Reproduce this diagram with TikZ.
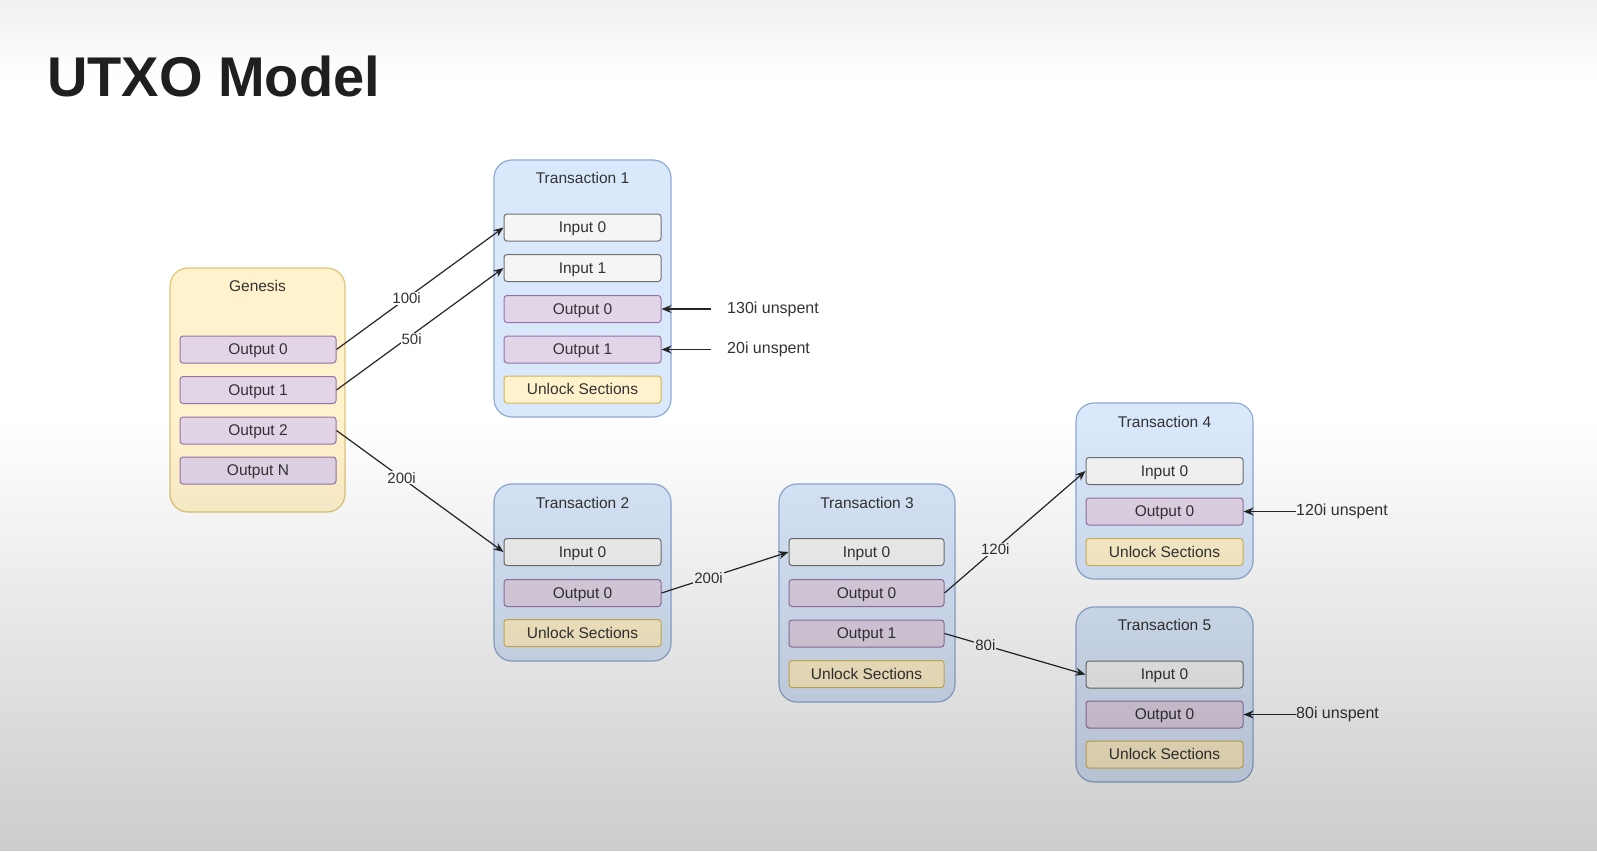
\documentclass[tikz,border=0pt]{standalone}
\usepackage{fontspec}
\setmainfont{Liberation Sans}
\usetikzlibrary{arrows.meta,fadings}
\definecolor{yfill}{HTML}{FFF2CC}
\definecolor{ystroke}{HTML}{D6B656}
\definecolor{bfill}{HTML}{DAE8FC}
\definecolor{bstroke}{HTML}{8FAAD3}
\definecolor{pfill}{HTML}{E1D5E7}
\definecolor{pstroke}{HTML}{9673A6}
\definecolor{gfill}{HTML}{F5F5F5}
\definecolor{gstroke}{HTML}{707070}
\definecolor{txt}{HTML}{333333}
\newcommand{\fsz}{\fontsize{15.5}{18}\selectfont}
\newcommand{\fsl}{\fontsize{15}{18}\selectfont}
\newcommand{\fsu}{\fontsize{16}{19}\selectfont}
\begin{document}
\begin{tikzpicture}[x=1pt,y=-1pt,
  cont/.style={draw=bstroke, fill=bfill, line width=1.2pt, rounded corners=18pt, minimum width=177pt, inner sep=0pt},
  gen/.style={draw=ystroke!80, fill=yfill, line width=1.2pt, rounded corners=18pt, minimum width=175pt, minimum height=244pt, inner sep=0pt},
  ib/.style={draw, rounded corners=3pt, minimum width=157pt, minimum height=27pt, inner sep=0pt, font=\fsz, text=txt, line width=1pt, text height=11.5pt, text depth=1pt},
  outb/.style={ib, fill=pfill, draw=pstroke},
  inb/.style={ib, fill=gfill, draw=gstroke},
  unlb/.style={ib, fill=yfill, draw=ystroke},
  ttl/.style={font=\fsz, text=txt, inner sep=0pt},
  lbl/.style={fill=white, inner sep=1pt, font=\fsl, text=txt},
  uns/.style={font=\fsu, text=txt, inner sep=0pt, anchor=west},
  arr/.style={-{Stealth[length=10pt,width=8pt]}, line width=1.2pt, draw=black!85}]
\useasboundingbox (0,0) rectangle (1597,851);
\fill[white] (0,0) rectangle (1597,851);
\fill[black, opacity=0.06, path fading=south] (0,0) rectangle (1597,80);

% title
\node[anchor=base west, inner sep=0pt, font=\fontsize{56}{60}\bfseries\selectfont, text=black!88] (title) at (47,96) {UTXO Model};

% Genesis
\node[gen] (gen) at (257.5,390) {};
\node[ttl] (gent) at (257.5,286) {Genesis};
\node[outb, minimum width=156pt] (g0) at (258,349.5) {Output 0};
\node[outb, minimum width=156pt] (g1) at (258,390) {Output 1};
\node[outb, minimum width=156pt] (g2) at (258,430.5) {Output 2};
\node[outb, minimum width=156pt] (gN) at (258,470.5) {Output N};

% Transaction 1
\node[cont, minimum height=257pt] (t1) at (582.5,288.5) {};
\node[ttl] (t1t) at (582.5,178) {Transaction 1};
\node[inb] (t1i0) at (582.5,227.5) {Input 0};
\node[inb] (t1i1) at (582.5,268) {Input 1};
\node[outb] (t1o0) at (582.5,309) {Output 0};
\node[outb] (t1o1) at (582.5,349.5) {Output 1};
\node[unlb] (t1u) at (582.5,389.5) {Unlock Sections};

% Transaction 2
\node[cont, minimum height=177pt] (t2) at (582.5,572.5) {};
\node[ttl] (t2t) at (582.5,503) {Transaction 2};
\node[inb] (t2i0) at (582.5,552) {Input 0};
\node[outb] (t2o0) at (582.5,593) {Output 0};
\node[unlb] (t2u) at (582.5,633) {Unlock Sections};

% Transaction 3
\node[cont, minimum width=176pt, minimum height=218pt] (t3) at (867,593) {};
\node[ttl] (t3t) at (867,503) {Transaction 3};
\node[inb, minimum width=155pt] (t3i0) at (866.5,552) {Input 0};
\node[outb, minimum width=155pt] (t3o0) at (866.5,593) {Output 0};
\node[outb, minimum width=155pt] (t3o1) at (866.5,633.5) {Output 1};
\node[unlb, minimum width=155pt] (t3u) at (866.5,674) {Unlock Sections};

% Transaction 4
\node[cont, minimum height=176pt] (t4) at (1164.5,491) {};
\node[ttl] (t4t) at (1164.5,422) {Transaction 4};
\node[inb] (t4i0) at (1164.5,471) {Input 0};
\node[outb] (t4o0) at (1164.5,511.5) {Output 0};
\node[unlb] (t4u) at (1164.5,552) {Unlock Sections};

% Transaction 5
\node[cont, minimum height=175pt] (t5) at (1164.5,694.5) {};
\node[ttl] (t5t) at (1164.5,625) {Transaction 5};
\node[inb] (t5i0) at (1164.5,674.5) {Input 0};
\node[outb] (t5o0) at (1164.5,714.5) {Output 0};
\node[unlb] (t5u) at (1164.5,754.5) {Unlock Sections};

% edges
\draw[arr] (g0.east) -- node[lbl, pos=0.42] {100i} (t1i0.west);
\draw[arr] (g1.east) -- node[lbl, pos=0.45, yshift=-4pt] {50i} (t1i1.west);
\draw[arr] (g2.east) -- node[lbl, pos=0.39] {200i} (t2i0.west);
\draw[arr] (t2o0.east) -- node[lbl, pos=0.37] {200i} (t3i0.west);
\draw[arr] (t3o0.east) -- node[lbl, pos=0.36] {120i} (t4i0.west);
\draw[arr] (t3o1.east) -- node[lbl, pos=0.29] {80i} (t5i0.west);

% unspent labels
\node[uns] (u1) at (727,309) {130i unspent};
\node[uns] (u2) at (727,349.5) {20i unspent};
\node[uns] (u4) at (1296,511.5) {120i unspent};
\node[uns] (u5) at (1296,714.5) {80i unspent};
\coordinate (c1) at (711,309);
\coordinate (c2) at (711,349.5);
\draw[arr] (c1) -- (t1o0.east);
\draw[arr] (c2) -- (t1o1.east);
\draw[arr] (u4.west) -- (t4o0.east);
\draw[arr] (u5.west) -- (t5o0.east);

% lighting of the screenshot
\fill[black, opacity=0.2, path fading=north] (0,420) rectangle (1597,851);
\end{tikzpicture}
\end{document}
